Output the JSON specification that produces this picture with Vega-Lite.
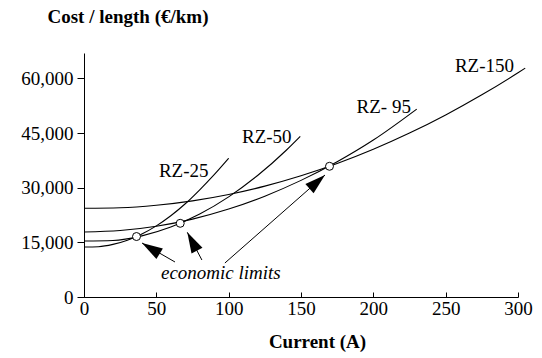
{
  "$schema": "https://vega.github.io/schema/vega-lite/v6.json",
  "autosize": {"type": "none"},
  "padding": {"left": 84, "top": 53, "right": 24, "bottom": 61},
  "width": 434,
  "height": 244,
  "background": "white",
  "config": {
    "view": {"stroke": null},
    "font": "Liberation Serif",
    "axis": {"grid": false, "domainColor": "black", "tickColor": "black", "labelColor": "black", "titleColor": "black", "labelFont": "Liberation Serif", "titleFont": "Liberation Serif", "labelFontSize": 19, "titleFontSize": 19, "titleFontWeight": "bold", "domainWidth": 1, "tickWidth": 1}
  },
  "datasets": {
    "curves": [
      {"cable": "RZ-25", "current": 0, "cost": 13730},
      {"cable": "RZ-25", "current": 10, "cost": 13818},
      {"cable": "RZ-25", "current": 20, "cost": 14442},
      {"cable": "RZ-25", "current": 30, "cost": 15602},
      {"cable": "RZ-25", "current": 40, "cost": 17298},
      {"cable": "RZ-25", "current": 50, "cost": 19530},
      {"cable": "RZ-25", "current": 60, "cost": 22298},
      {"cable": "RZ-25", "current": 70, "cost": 25602},
      {"cable": "RZ-25", "current": 80, "cost": 29442},
      {"cable": "RZ-25", "current": 90, "cost": 33600},
      {"cable": "RZ-25", "current": 100, "cost": 38100},
      {"cable": "RZ-50", "current": 0, "cost": 15378},
      {"cable": "RZ-50", "current": 20, "cost": 15506},
      {"cable": "RZ-50", "current": 40, "cost": 16781},
      {"cable": "RZ-50", "current": 60, "cost": 19203},
      {"cable": "RZ-50", "current": 80, "cost": 22774},
      {"cable": "RZ-50", "current": 100, "cost": 27490},
      {"cable": "RZ-50", "current": 120, "cost": 33354},
      {"cable": "RZ-50", "current": 140, "cost": 40365},
      {"cable": "RZ-50", "current": 149.5, "cost": 44100},
      {"cable": "RZ-95", "current": 0, "cost": 17849},
      {"cable": "RZ-95", "current": 25, "cost": 18243},
      {"cable": "RZ-95", "current": 50, "cost": 19424},
      {"cable": "RZ-95", "current": 75, "cost": 21393},
      {"cable": "RZ-95", "current": 100, "cost": 24149},
      {"cable": "RZ-95", "current": 125, "cost": 27693},
      {"cable": "RZ-95", "current": 150, "cost": 32024},
      {"cable": "RZ-95", "current": 175, "cost": 37143},
      {"cable": "RZ-95", "current": 200, "cost": 43100},
      {"cable": "RZ-95", "current": 230, "cost": 51600},
      {"cable": "RZ-150", "current": 0, "cost": 24357},
      {"cable": "RZ-150", "current": 25, "cost": 24499},
      {"cable": "RZ-150", "current": 50, "cost": 25179},
      {"cable": "RZ-150", "current": 75, "cost": 26398},
      {"cable": "RZ-150", "current": 100, "cost": 28154},
      {"cable": "RZ-150", "current": 125, "cost": 30449},
      {"cable": "RZ-150", "current": 150, "cost": 33281},
      {"cable": "RZ-150", "current": 175, "cost": 36652},
      {"cable": "RZ-150", "current": 200, "cost": 40561},
      {"cable": "RZ-150", "current": 225, "cost": 45008},
      {"cable": "RZ-150", "current": 250, "cost": 49993},
      {"cable": "RZ-150", "current": 275, "cost": 55516},
      {"cable": "RZ-150", "current": 300, "cost": 61578},
      {"cable": "RZ-150", "current": 305, "cost": 62856}
    ],
    "limits": [
      {"current": 36.3, "cost": 16600},
      {"current": 66.5, "cost": 20238},
      {"current": 169.7, "cost": 35890}
    ],
    "arrows": [
      {"id": "a1", "end": "tail", "current": 62.9, "cost": 9611},
      {"id": "a1", "end": "tip", "current": 40.1, "cost": 14828},
      {"id": "a2", "end": "tail", "current": 81.5, "cost": 10160},
      {"id": "a2", "end": "tip", "current": 71.4, "cost": 17767},
      {"id": "a3", "end": "tail", "current": 97.4, "cost": 9336},
      {"id": "a3", "end": "tip", "current": 166.6, "cost": 33501}
    ],
    "labels": [
      {"text": "RZ-25", "current": 51.8, "cost": 32952},
      {"text": "RZ-50", "current": 109.2, "cost": 42288},
      {"text": "RZ- 95", "current": 188.4, "cost": 50445},
      {"text": "RZ-150", "current": 256.4, "cost": 61868}
    ],
    "notes": [
      {"text": "economic limits", "current": 53.2, "cost": 4943}
    ]
  },
  "encoding": {
    "x": {"field": "current", "type": "quantitative", "scale": {"domain": [0, 300], "nice": false, "zero": false},
      "axis": {"title": "Current (A)", "values": [0, 50, 100, 150, 200, 250, 300], "tickSize": -5, "labelPadding": 7, "titleX": 233, "titleY": 50, "titleAlign": "center", "titleBaseline": "alphabetic", "labelFlush": false}},
    "y": {"field": "cost", "type": "quantitative", "scale": {"domain": [0, 67000], "nice": false, "zero": false},
      "axis": {"title": "Cost / length (€/km)", "values": [0, 15000, 30000, 45000, 60000], "format": ",d", "tickSize": 7, "labelPadding": 4, "titleAngle": 0, "titleAlign": "left", "titleBaseline": "alphabetic", "titleX": -37, "titleY": -31}}
  },
  "layer": [
    {"data": {"name": "curves"}, "mark": {"type": "line", "color": "black", "strokeWidth": 1.1, "interpolate": "monotone"},
      "encoding": {"detail": {"field": "cable"}}},
    {"data": {"name": "arrows"}, "mark": {"type": "line", "color": "black", "strokeWidth": 1},
      "encoding": {"detail": {"field": "id"}}},
    {"data": {"name": "arrows"}, "transform": [{"filter": "datum.id === 'a1' && datum.end === 'tip'"}],
      "mark": {"type": "point", "shape": "M0,0L0.9,3L-0.9,3Z", "size": 190, "filled": true, "color": "black", "opacity": 1, "angle": 301.5}},
    {"data": {"name": "arrows"}, "transform": [{"filter": "datum.id === 'a2' && datum.end === 'tip'"}],
      "mark": {"type": "point", "shape": "M0,0L0.9,3L-0.9,3Z", "size": 190, "filled": true, "color": "black", "opacity": 1, "angle": 332}},
    {"data": {"name": "arrows"}, "transform": [{"filter": "datum.id === 'a3' && datum.end === 'tip'"}],
      "mark": {"type": "point", "shape": "M0,0L0.9,3L-0.9,3Z", "size": 190, "filled": true, "color": "black", "opacity": 1, "angle": 48.7}},
    {"data": {"name": "limits"}, "mark": {"type": "point", "shape": "circle", "size": 64, "filled": true, "fill": "white", "stroke": "black", "strokeWidth": 1, "opacity": 1}},
    {"data": {"name": "labels"}, "mark": {"type": "text", "align": "left", "baseline": "alphabetic", "font": "Liberation Serif", "fontSize": 19, "color": "black"},
      "encoding": {"text": {"field": "text"}}},
    {"data": {"name": "notes"}, "mark": {"type": "text", "align": "left", "baseline": "alphabetic", "font": "Liberation Serif", "fontSize": 19, "fontStyle": "italic", "color": "black"},
      "encoding": {"text": {"field": "text"}}}
  ]
}
